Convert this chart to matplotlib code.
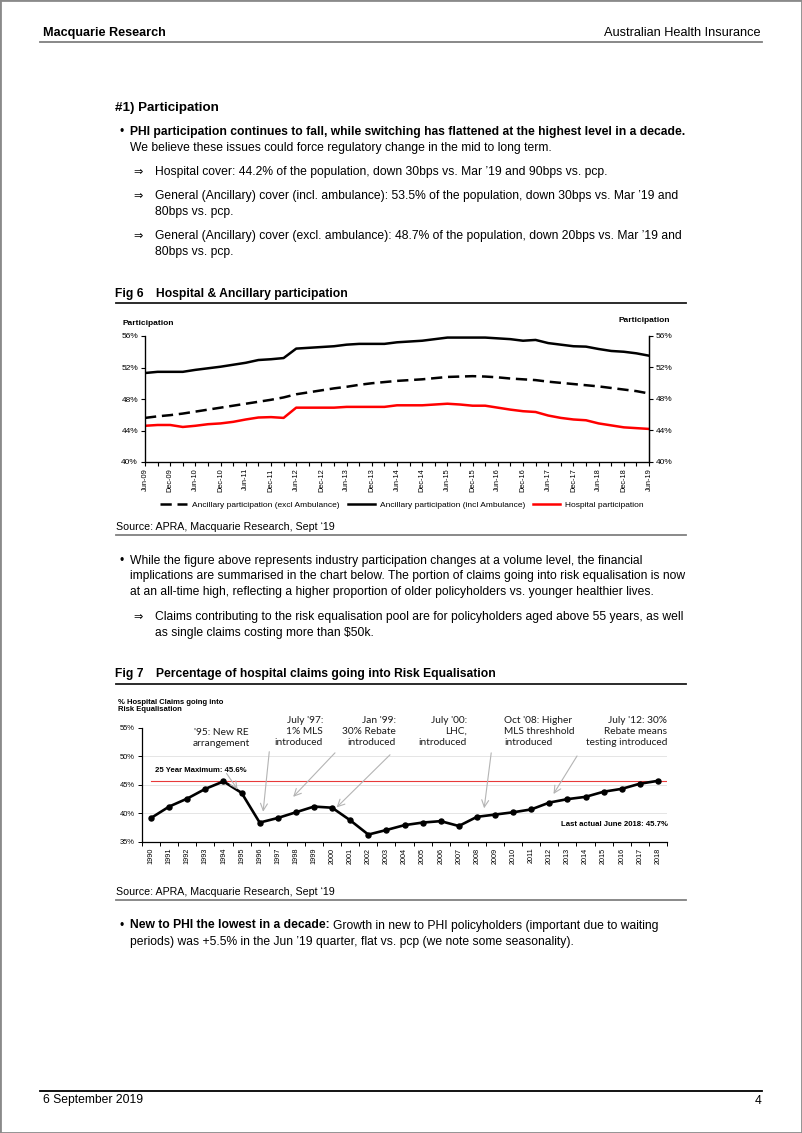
import matplotlib
matplotlib.use('Agg')
import matplotlib.pyplot as plt
from matplotlib import font_manager as fm
from matplotlib.lines import Line2D
from matplotlib.patches import Rectangle

# ---------------- data ----------------
quarter_labels = ['Jun-09', 'Dec-09', 'Jun-10', 'Dec-10', 'Jun-11', 'Dec-11', 'Jun-12',
                  'Dec-12', 'Jun-13', 'Dec-13', 'Jun-14', 'Dec-14', 'Jun-15', 'Dec-15',
                  'Jun-16', 'Dec-16', 'Jun-17', 'Dec-17', 'Jun-18', 'Dec-18', 'Jun-19']
ancillary_excl_amb = [45.6, 45.8, 45.95, 46.15, 46.4, 46.65, 46.9, 47.15, 47.4, 47.65, 47.9,
                      48.2, 48.6, 48.85, 49.1, 49.35, 49.55, 49.8, 50.0, 50.15, 50.3, 50.4,
                      50.5, 50.65, 50.8, 50.85, 50.9, 50.85, 50.75, 50.6, 50.5, 50.4, 50.2,
                      50.05, 49.9, 49.75, 49.6, 49.4, 49.2, 49.0, 48.7]
ancillary_incl_amb = [51.3, 51.45, 51.45, 51.45, 51.7, 51.9, 52.1, 52.35, 52.6, 52.95, 53.05,
                      53.2, 54.4, 54.5, 54.6, 54.7, 54.9, 55.0, 55.0, 55.0, 55.2, 55.3,
                      55.4, 55.6, 55.8, 55.8, 55.8, 55.8, 55.7, 55.6, 55.4, 55.5, 55.1,
                      54.9, 54.7, 54.65, 54.35, 54.1, 54.0, 53.8, 53.5]
hospital = [44.6, 44.7, 44.7, 44.45, 44.6, 44.8, 44.9, 45.1, 45.4, 45.65, 45.7,
            45.6, 46.9, 46.9, 46.9, 46.9, 47.0, 47.0, 47.0, 47.0, 47.2, 47.2,
            47.2, 47.3, 47.4, 47.3, 47.15, 47.15, 46.9, 46.65, 46.45, 46.35, 45.9,
            45.6, 45.4, 45.3, 44.9, 44.65, 44.4, 44.3, 44.2]
series_names = ['Ancillary participation (excl Ambulance)',
                'Ancillary participation (incl Ambulance)',
                'Hospital participation']
fig6_yticks = [40, 44, 48, 52, 56]

years = ['1990', '1991', '1992', '1993', '1994', '1995', '1996', '1997', '1998', '1999',
         '2000', '2001', '2002', '2003', '2004', '2005', '2006', '2007', '2008', '2009',
         '2010', '2011', '2012', '2013', '2014', '2015', '2016', '2017', '2018']
re_share = [39.2, 41.2, 42.6, 44.3, 45.6, 43.6, 38.4, 39.2, 40.2, 41.2, 41.0, 38.8, 36.3,
            37.1, 37.95, 38.4, 38.65, 37.8, 39.4, 39.8, 40.2, 40.7, 41.9, 42.5, 42.9, 43.8,
            44.3, 45.2, 45.7]
max_25yr = 45.6
fig7_yticks = [35, 40, 45, 50, 55]
event_texts = ["'95: New RE\narrangement", "July '97:\n1% MLS\nintroduced",
               "Jan '99:\n30% Rebate\nintroduced", "July '00:\nLHC,\nintroduced",
               "Oct '08: Higher\nMLS threshhold\nintroduced",
               "July '12: 30%\nRebate means\ntesting introduced"]

# ---------------- fonts ----------------
names = {f.name for f in fm.fontManager.ttflist}
if 'Liberation Sans Narrow' in names:
    BODY, NF = 'Liberation Sans Narrow', 1 / 0.82
else:
    BODY, NF = 'Liberation Sans', 1.0
ARIAL = 'Liberation Sans'
CAL = 'Lato' if 'Lato' in names else 'DejaVu Sans'
plt.rcParams['font.family'] = [ARIAL, 'DejaVu Sans']

W, H = 802, 1133
fig = plt.figure(figsize=(W / 100, H / 100), dpi=100)
fig.patch.set_facecolor('white')


def fx(x):
    return x / W


def fy(y):
    return 1 - y / H


def T(x, y, s, size=8.7, bold=False, ha='left', fam=None, **kw):
    return fig.text(fx(x), fy(y), s, fontsize=size * (NF if fam is None else 1.0),
                    fontweight='bold' if bold else 'normal', ha=ha, va='center',
                    family=[fam or BODY, 'DejaVu Sans'], **kw)


def rule(x0, x1, y, color='#808080', lw=1.2):
    fig.add_artist(Line2D([fx(x0), fx(x1)], [fy(y), fy(y)], color=color, lw=lw))


# page frame
fig.add_artist(Rectangle((0, 0), 1, 1, transform=fig.transFigure, fill=False,
                         edgecolor='#8a8a8a', lw=2))

# header / footer
T(43, 33, 'Macquarie Research', size=9.1, bold=True)
T(761, 33, 'Australian Health Insurance', size=9.2, ha='right')
rule(40, 762, 42, color='#7f7f7f', lw=1.3)
rule(40, 762, 1091, color='#000000', lw=1.3)
T(43, 1100.5, '6 September 2019', size=8.7)
T(761, 1100.5, '4', size=8.7, ha='right')

# section text
T(115, 107.5, '#1) Participation', size=9.6, bold=True)


def bullet(y):
    T(119, y, '\u2022', size=8.7)


def arrow(y):
    fig.text(fx(133), fy(y), '\u21d2', fontsize=8, family=['DejaVu Sans'], va='center')


bullet(132)
T(130, 132, 'PHI participation continues to fall, while switching has flattened at the highest level in a decade.', bold=True)
T(130, 148.5, 'We believe these issues could force regulatory change in the mid to long term.')
arrow(172.5)
T(155, 172.5, 'Hospital cover: 44.2% of the population, down 30bps vs. Mar \u201919 and 90bps vs. pcp.')
arrow(196.5)
T(155, 196.5, 'General (Ancillary) cover (incl. ambulance): 53.5% of the population, down 30bps vs. Mar \u201919 and')
T(155, 212.5, '80bps vs. pcp.')
arrow(236.5)
T(155, 236.5, 'General (Ancillary) cover (excl. ambulance): 48.7% of the population, down 20bps vs. Mar \u201919 and')
T(155, 252.5, '80bps vs. pcp.')

T(115, 294, 'Fig 6', bold=True)
T(156, 294, 'Hospital & Ancillary participation', bold=True)
rule(116, 686, 302.5, color='#1a1a1a', lw=1.3)

T(116, 527, 'Source: APRA, Macquarie Research, Sept \u201819', size=7.7)
rule(116, 686, 535, lw=1.3)

bullet(560.5)
T(130, 560.5, 'While the figure above represents industry participation changes at a volume level, the financial')
T(130, 576.5, 'implications are summarised in the chart below. The portion of claims going into risk equalisation is now')
T(130, 592.5, 'at an all-time high, reflecting a higher proportion of older policyholders vs. younger healthier lives.')
arrow(617)
T(155, 617, 'Claims contributing to the risk equalisation pool are for policyholders aged above 55 years, as well')
T(155, 633, 'as single claims costing more than \\$50k.')

T(115, 673.5, 'Fig 7', bold=True)
T(156, 673.5, 'Percentage of hospital claims going into Risk Equalisation', bold=True)
rule(116, 686, 683.5, color='#1a1a1a', lw=1.3)

T(116, 892, 'Source: APRA, Macquarie Research, Sept \u201819', size=7.7)
rule(116, 686, 900, lw=1.3)

bullet(925.5)
tb = T(130, 925.5, 'New to PHI the lowest in a decade:', bold=True)
fig.canvas.draw()
bw = tb.get_window_extent(fig.canvas.get_renderer()).width
T(130 + bw + 3.5, 925.5, 'Growth in new to PHI policyholders (important due to waiting')
T(130, 941.5, 'periods) was +5.5% in the Jun \u201919 quarter, flat vs. pcp (we note some seasonality).')

# ---------------- Fig 6 chart ----------------
ax1 = fig.add_axes([fx(145), fy(462), (649 - 145) / W, (462 - 336) / H])
xq = list(range(len(hospital)))
ax1.plot(xq, ancillary_excl_amb, color='black', lw=1.8, dashes=(4.5, 2.3), label=series_names[0])
ax1.plot(xq, ancillary_incl_amb, color='black', lw=1.8, label=series_names[1])
ax1.plot(xq, hospital, color='#ff0000', lw=1.8, label=series_names[2])
ax1.set_xlim(0, len(hospital) - 1)
ax1.set_ylim(fig6_yticks[0], fig6_yticks[-1])
ax1.set_yticks(fig6_yticks)
ax1.set_yticklabels([f'{v}%' for v in fig6_yticks], fontsize=6)
ax1.set_xticks(range(0, len(hospital), 2))
ax1.set_xticks(range(1, len(hospital), 2), minor=True)
ax1.set_xticklabels(quarter_labels, rotation=90, fontsize=5.3)
ax1.tick_params(axis='both', which='both', direction='out', length=3, width=0.8, pad=2)
ax1.tick_params(axis='x', pad=1.5)
ax1.spines['top'].set_visible(False)
for s in ['left', 'right', 'bottom']:
    ax1.spines[s].set_linewidth(0.9)
ax1r = ax1.twinx()
ax1r.set_ylim(ax1.get_ylim())
ax1r.set_yticks(fig6_yticks)
ax1r.set_yticklabels([f'{v}%' for v in fig6_yticks], fontsize=6)
ax1r.tick_params(axis='y', direction='out', length=3, width=0.8, pad=2)
ax1r.spines['top'].set_visible(False)
ax1r.spines['right'].set_linewidth(0.9)
fig.text(fx(122.5), fy(324), 'Participation', fontsize=6, fontweight='bold', va='center')
fig.text(fx(670), fy(320), 'Participation', fontsize=6, fontweight='bold', va='center', ha='right')
ax1.legend(loc='center', bbox_to_anchor=(fx(402), fy(505.5)), bbox_transform=fig.transFigure,
           ncol=3, frameon=False, fontsize=6, handlelength=3.2, handletextpad=0.6,
           columnspacing=1.0, borderpad=0)

# ---------------- Fig 7 chart ----------------
ax2 = fig.add_axes([fx(142), fy(842), (667 - 142) / W, (842 - 727.7) / H])
xy = list(range(len(years)))
for g in fig7_yticks[1:-1]:
    ax2.axhline(g, color='#e0e0e0', lw=0.6, zorder=0)
ax2.axhline(max_25yr, xmin=0.5 / len(years), xmax=1, color='#e83a3a', lw=0.8, zorder=1)
ax2.plot(xy, re_share, color='black', lw=1.9, marker='o', ms=3.6, zorder=3)
ax2.set_xlim(-0.5, len(years) - 0.5)
ax2.set_ylim(fig7_yticks[0], fig7_yticks[-1])
ax2.set_yticks(fig7_yticks)
ax2.set_yticklabels([f'{v}%' for v in fig7_yticks], fontsize=5.4)
ax2.set_xticks(xy)
ax2.set_xticklabels(years, rotation=90, fontsize=5.2)
ax2.set_xticks([i + 0.5 for i in range(-1, len(years))], minor=True)
ax2.tick_params(axis='x', which='major', length=0, pad=4)
ax2.tick_params(axis='x', which='minor', length=3, width=0.7, direction='out')
ax2.tick_params(axis='y', length=3, width=0.7, direction='out', pad=2)
ax2.spines['top'].set_visible(False)
ax2.spines['right'].set_visible(False)
ax2.spines['left'].set_linewidth(0.9)
ax2.spines['bottom'].set_linewidth(0.9)

fig.text(fx(118), fy(706), '% Hospital Claims going into\nRisk Equalisation', fontsize=5.5,
         fontweight='bold', va='center', linespacing=1.05)
fig.text(fx(155), fy(770), f'25 Year Maximum: {max_25yr}%', fontsize=5.6, fontweight='bold', va='center')
fig.text(fx(668), fy(825), f'Last actual June 2018: {re_share[-1]}%', fontsize=5.6,
         fontweight='bold', va='center', ha='right')

ev_pos = [(221, 738, 'center'), (323, 731.5, 'right'), (396, 731.5, 'right'),
          (467, 731.5, 'right'), (504, 731.5, 'left'), (667, 731.5, 'right')]
for (x, y, ha), s in zip(ev_pos, event_texts):
    fig.text(fx(x), fy(y), s, fontsize=7.3, family=[CAL, 'DejaVu Sans'], ha=ha, va='center',
             multialignment=ha, linespacing=1.22, color='#1a1a1a')

ev_arrows = [((4.17, 47.0), (4.78, 44.2)), ((6.53, 50.8), (6.19, 40.3)),
             ((10.16, 50.6), (7.85, 42.9)), ((13.2, 50.26), (10.25, 41.05)),
             ((18.79, 50.6), (18.4, 40.9)), ((23.53, 50.05), (22.23, 43.4))]
for start, end in ev_arrows:
    ax2.annotate('', xy=end, xytext=start,
                 arrowprops=dict(arrowstyle='->,head_length=0.5,head_width=0.25',
                                 color='#b4b4b4', lw=0.8, shrinkA=0, shrinkB=0))

fig.savefig('out.png', dpi=100, facecolor='white')
